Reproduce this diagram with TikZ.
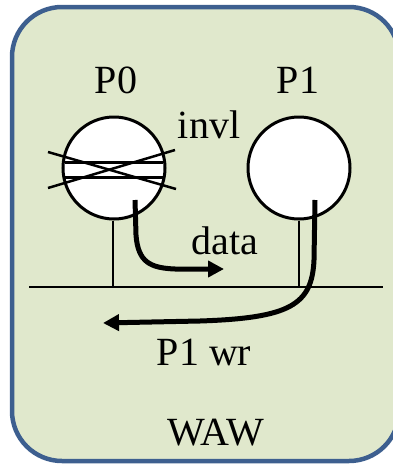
\documentclass[tikz,border=0pt]{standalone}
\usepackage{fontspec}
\setmainfont{Liberation Serif}
\usetikzlibrary{arrows.meta}
\definecolor{frame}{HTML}{3D5F8F}
\definecolor{bg}{HTML}{E0E8CC}
\tikzset{
  lbl/.style={font=\fontsize{40}{46}\selectfont, inner sep=0pt},
  cache/.style={circle, draw=black, line width=3pt, fill=white, minimum size=102pt, inner sep=0pt},
  thin/.style={line width=1.6pt},
  flow/.style={line width=5pt, -{Triangle[length=16pt,width=16pt]}},
}
\begin{document}
\begin{tikzpicture}[x=1pt,y=-1pt]
\useasboundingbox (0,0) rectangle (393,466);
\begin{scope}
\clip (0,0) rectangle (393,466);
\draw[frame, line width=4.5pt, fill=bg, rounded corners=50pt] (12,7) rectangle (399,461);
\end{scope}
\node[lbl] (p0lbl) at (116,80) {P0};
\node[lbl] (p1lbl) at (298,80) {P1};
\node[lbl] (invl) at (209,125) {invl};
\node[lbl] (data) at (225,241) {data};
\node[lbl] (p1wr) at (204,352) {P1 wr};
\node[lbl] (waw) at (216,433) {WAW};
% bus
\coordinate (busL) at (29,287);
\coordinate (busR) at (383,287);
\draw[thin] (busL) -- (busR);
% stems
\coordinate (s0) at (113,287);
\coordinate (s1) at (299,287);
\node[cache] (c0) at (114,168) {};
\node[cache] (c1) at (299,168) {};
\draw[thin] (c0.south) ++(-1,0) -- (s0);
\draw[thin] (c1.south) -- (s1);
% invalidated lines
\draw[line width=3pt] (65,162) -- (163,162);
\draw[line width=3pt] (64,177) -- (164,177);
\coordinate (x1a) at (48,152);
\coordinate (x1b) at (176,189);
\coordinate (x2a) at (48,188);
\coordinate (x2b) at (175,150);
\draw[line width=2.5pt] (x1a) -- (x1b);
\draw[line width=2.5pt] (x2a) -- (x2b);
% arrows
\coordinate (d0) at (135,200);
\coordinate (d1) at (224,269);
\draw[flow] (d0) -- (136,235) .. controls (138,262) and (150,268) .. (175,269) -- (d1);
\coordinate (w0) at (315,200);
\coordinate (w1) at (103,323);
\draw[flow] (w0) -- (314,260) .. controls (312,305) and (290,318) .. (200,321) -- (w1);
\end{tikzpicture}
\end{document}
